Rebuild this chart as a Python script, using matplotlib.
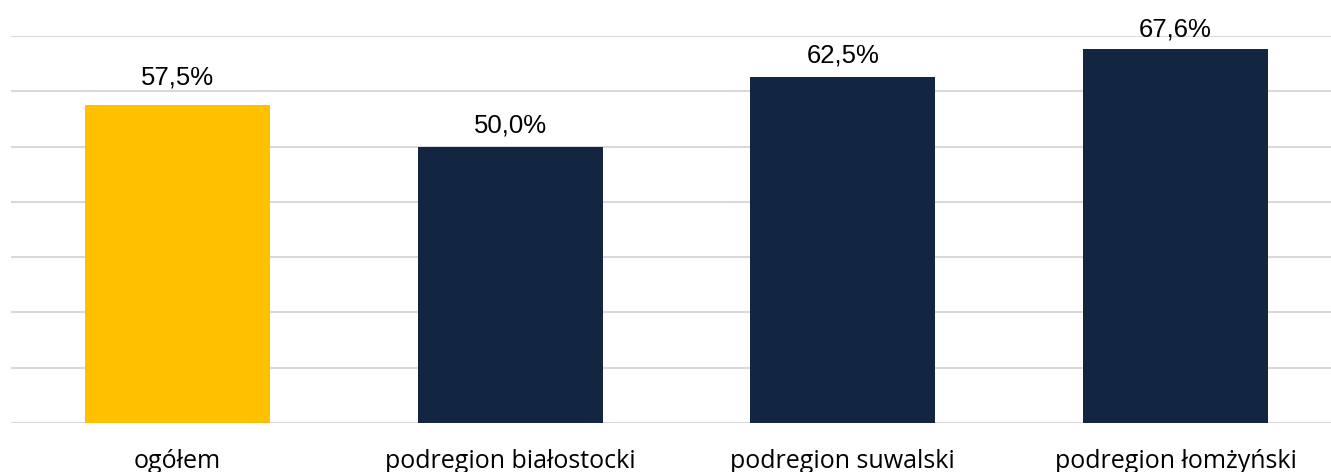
import matplotlib
matplotlib.use("Agg")
import matplotlib.pyplot as plt

categories = ["ogółem", "podregion białostocki", "podregion suwalski", "podregion łomżyński"]
values = [57.5, 50.0, 62.5, 67.6]
value_labels = ["57,5%", "50,0%", "62,5%", "67,6%"]
bar_colors = ["#FFC000", "#132641", "#132641", "#132641"]
y_ticks = [0, 10, 20, 30, 40, 50, 60, 70]

# label gap above each bar (points) - styling
label_gaps = [11.2, 6.8, 7.0, 5.8]

fig = plt.figure(figsize=(13.31, 4.72), dpi=100)
ax = fig.add_axes([11/1331, 49/472, 1331/1331, 387/472])

x = list(range(len(categories)))
ax.bar(x, values, width=0.556, color=bar_colors, zorder=3)
ax.set_xlim(-0.5, 3.5)
ax.set_ylim(0, 70)
ax.set_yticks(y_ticks)
ax.yaxis.grid(True, color="#D9D9D9", linewidth=1.5, zorder=0)
ax.set_axisbelow(True)
ax.tick_params(axis="y", left=False, labelleft=False)
ax.tick_params(axis="x", bottom=False, pad=15)
ax.set_xticks(x)
ax.set_xticklabels(categories, fontsize=18, family=["Open Sans", "DejaVu Sans"], color="#000000")
for s in ax.spines.values():
    s.set_visible(False)

for xi, v, lab, g in zip(x, values, value_labels, label_gaps):
    ax.annotate(lab, (xi, v), xytext=(0, g), textcoords="offset points",
                ha="center", va="bottom", fontsize=18.5,
                family=["Liberation Sans", "DejaVu Sans"], color="#000000")

fig.savefig("out.png", dpi=100)
